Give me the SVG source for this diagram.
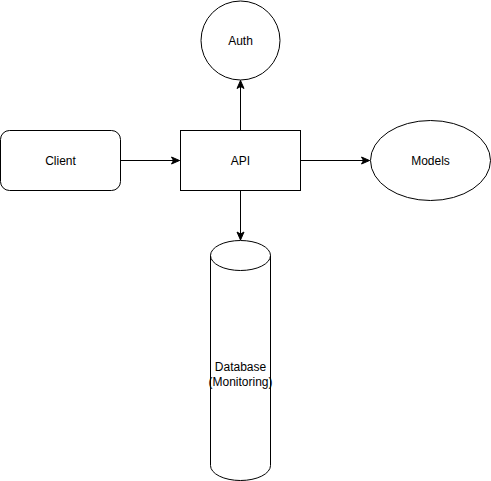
<svg xmlns="http://www.w3.org/2000/svg" width="491" height="481" viewBox="0 0 491 481">
<defs>
<style>
.shape{fill:#ffffff;stroke:#000000;stroke-width:1}
.edge{fill:none;stroke:#000000;stroke-width:1}
.lbl{font-family:"Liberation Sans",Arial,Helvetica,sans-serif;font-size:12px;fill:#000000;text-anchor:middle}
</style>
<marker id="arrow" viewBox="0 0 10 10" refX="9" refY="5" markerWidth="10" markerHeight="10" markerUnits="userSpaceOnUse" orient="auto">
<path d="M1,1.5 L9,5 L1,8.5 L3,5 Z" fill="#000000" stroke="#000000" stroke-width="1"/>
</marker>
</defs>
<rect width="491" height="481" fill="#ffffff"/>
<g id="connectors">
<path class="edge" d="M120.5,160.5 L179.5,160.5" marker-end="url(#arrow)"/>
<path class="edge" d="M240.5,130 L240.5,80.5" marker-end="url(#arrow)"/>
<path class="edge" d="M300.5,160.5 L369.5,160.5" marker-end="url(#arrow)"/>
<path class="edge" d="M240.5,190.5 L240.5,240" marker-end="url(#arrow)"/>
</g>
<g id="auth">
<circle class="shape" cx="240.5" cy="40.5" r="39.5"/>
<text class="lbl" x="240.5" y="45">Auth</text>
</g>
<g id="client">
<rect class="shape" x="0.5" y="130.5" width="120" height="60" rx="9" ry="9"/>
<text class="lbl" x="60.5" y="165">Client</text>
</g>
<g id="api">
<rect class="shape" x="180.5" y="130.5" width="120" height="60"/>
<text class="lbl" x="240.5" y="165">API</text>
</g>
<g id="models">
<ellipse class="shape" cx="430.5" cy="160.5" rx="60" ry="40"/>
<text class="lbl" x="430.5" y="165">Models</text>
</g>
<g id="database">
<path class="shape" d="M210.5,255.5 A30,15 0 0 1 270.5,255.5 L270.5,465.5 A30,15 0 0 1 210.5,465.5 Z"/>
<path class="edge" d="M210.5,255.5 A30,15 0 0 0 270.5,255.5"/>
<text class="lbl" x="240.5" y="371">Database</text>
<text class="lbl" x="240.5" y="385.5">(Monitoring)</text>
</g>
</svg>
